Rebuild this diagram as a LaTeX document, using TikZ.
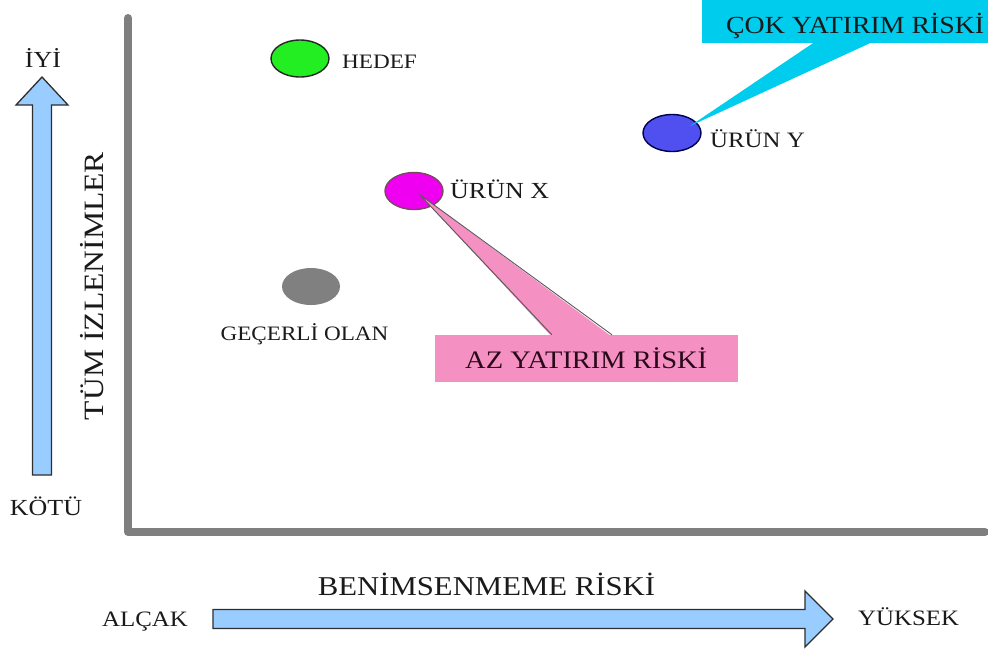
\documentclass[tikz,border=0pt]{standalone}
\usepackage{fontspec}
\setmainfont{Liberation Serif}[FakeStretch=1.13]
\usetikzlibrary{calc,shapes.geometric}

\definecolor{axisgray}{HTML}{7F7F7F}
\definecolor{arrowblue}{HTML}{99CCFF}
\definecolor{arrowline}{HTML}{2E2E2E}
\definecolor{txt}{HTML}{1A1A1A}
\definecolor{hedefgreen}{HTML}{22EE22}
\definecolor{urunblue}{HTML}{5050F0}
\definecolor{urunmag}{HTML}{F000F0}
\definecolor{currgray}{HTML}{808080}
\definecolor{calloutpink}{HTML}{F590C2}
\definecolor{calloutcyan}{HTML}{00CCEE}
\definecolor{aztext}{HTML}{2A0A1A}

\tikzset{
  lbl/.style={inner sep=0pt, text=txt, font=\fontsize{#1}{#1}\selectfont},
  lbl/.default=21,
  dot/.style={ellipse, inner sep=0pt, minimum width=58pt, minimum height=37pt,
              draw=#1, line width=1.4pt},
  dot/.default=black!85,
  axisline/.style={draw=axisgray, line width=8pt, line cap=round, line join=round},
  bigarrow/.style={fill=arrowblue, draw=arrowline, line width=1.3pt, line join=miter},
}

\begin{document}
\begin{tikzpicture}[x=1pt,y=-1pt]
\useasboundingbox (0,0) rectangle (988,649);

% axes
\coordinate (ytop) at (128,18);
\coordinate (orig) at (128,532);
\coordinate (xend) at (985,532);
\draw[axisline] (ytop) -- (orig) -- (xend);

% vertical quality arrow
\draw[bigarrow] (32.5,475) -- (32.5,105) -- (16,105) -- (42,77) -- (68,105)
  -- (51.5,105) -- (51.5,475) -- cycle;
\node[lbl=23, anchor=base] (iyi) at (43,67) {İYİ};
\node[lbl=23, anchor=base] (kotu) at (46,515) {KÖTÜ};
\node[lbl=28, anchor=base, rotate=90] (tum) at (103,286) {TÜM İZLENİMLER};

% horizontal risk arrow
\draw[bigarrow] (213,609.5) -- (805,609.5) -- (805,591) -- (833,619) -- (805,647)
  -- (805,628.5) -- (213,628.5) -- cycle;
\node[lbl=22, anchor=base west] (alcak) at (102,626) {ALÇAK};
\node[lbl=22, anchor=base west] (yuksek) at (858,625) {YÜKSEK};
\node[lbl=27.2, anchor=base] (benim) at (486.5,595) {BENİMSENMEME RİSKİ};

% positions
\node[dot, fill=hedefgreen] (hedef) at (300,58.5) {};
\node[lbl=20.5, anchor=base west] (hedefl) at (342,68) {HEDEF};

\node[dot=black!70!blue, fill=urunblue] (urunY) at (672,133) {};
\node[lbl=22, anchor=base west] (urunYl) at (710,147) {ÜRÜN Y};

\node[dot=black!60!magenta, fill=urunmag] (urunX) at (414,191) {};
\node[lbl=23, anchor=base west] (urunXl) at (450,198) {ÜRÜN X};

\node[ellipse, inner sep=0pt, minimum width=58pt, minimum height=37pt, fill=currgray]
  (gecerli) at (311,286.5) {};
\node[lbl=20.5, anchor=base] (gecerlil) at (304.5,340) {GEÇERLİ OLAN};

% high investment risk callout
\node[fill=calloutcyan, inner sep=0pt, minimum width=286pt, minimum height=43pt]
  (cokbox) at (845,21.5) {};
\fill[calloutcyan] ($(urunY.center)+(18,-7)$)
  -- ($(cokbox.south west)!0.388!(cokbox.south east)$)
  -- ($(cokbox.south west)!0.587!(cokbox.south east)$) -- cycle;
\node[lbl=24.6, anchor=base west] (cok) at (726,33) {ÇOK YATIRIM RİSKİ};

% low investment risk callout
\node[fill=calloutpink, inner sep=0pt, minimum width=303pt, minimum height=47pt]
  (azbox) at (586.5,358.5) {};
\coordinate (aztip) at ($(urunX.center)+(5,3)$);
\coordinate (azl) at ($(azbox.north west)!0.386!(azbox.north east)$);
\coordinate (azr) at ($(azbox.north west)!0.584!(azbox.north east)$);
\fill[calloutpink] (aztip) -- ($(azl)+(0,2)$) -- ($(azr)+(0,2)$) -- cycle;
\draw[black!65, line width=0.9pt] (azl) -- (aztip) -- (azr);
\node[lbl=25.2, text=aztext, anchor=base west] (az) at (465,368) {AZ YATIRIM RİSKİ};

\end{tikzpicture}
\end{document}
